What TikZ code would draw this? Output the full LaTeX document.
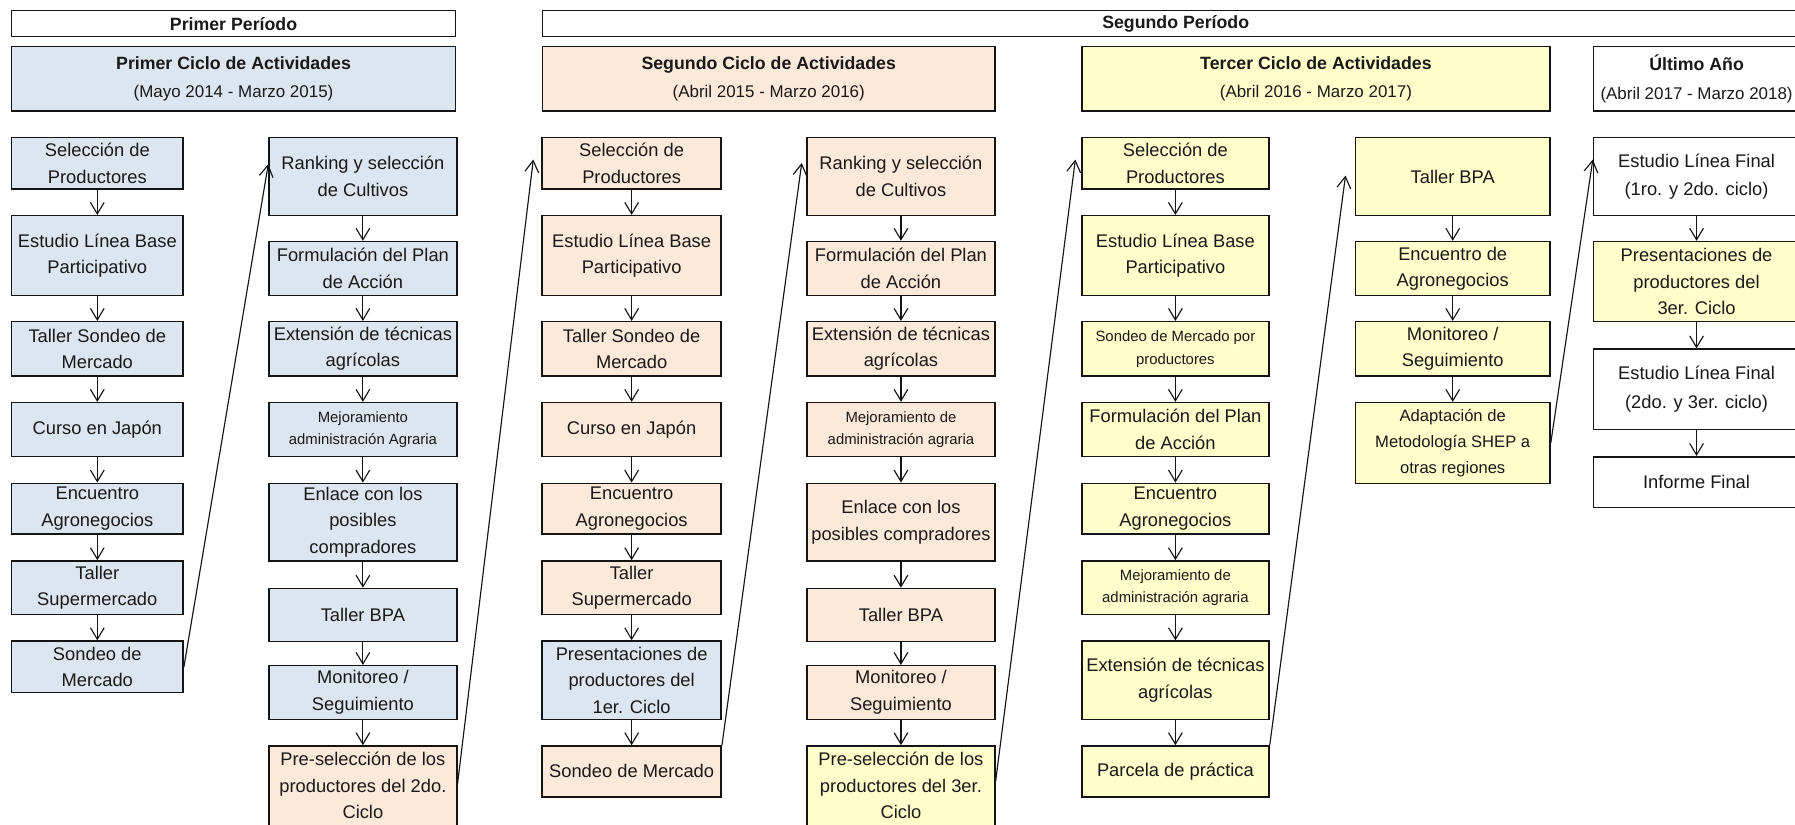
\documentclass[tikz,border=0pt]{standalone}
\usepackage{fontspec}
\setmainfont{Liberation Sans}
\usetikzlibrary{arrows.meta,calc}
\definecolor{blu}{RGB}{220,230,241}
\definecolor{pch}{RGB}{253,233,217}
\definecolor{yel}{RGB}{255,255,204}
\definecolor{ink}{RGB}{20,20,20}
\newcommand{\cellbox}[7]{%
  \pgfmathsetmacro{\cbx}{(#2+#3)/2}%
  \pgfmathsetmacro{\cby}{(#4+#5)/2}%
  \pgfmathsetmacro{\cbw}{#3-#2}%
  \pgfmathsetmacro{\cbh}{#5-#4}%
  \node[cell,#6,minimum width=\cbw pt,minimum height=\cbh pt] (#1) at (\cbx,\cby) {#7};}
\begin{document}
\begin{tikzpicture}[x=1pt,y=-1pt,
  cell/.style={draw=ink, line width=1.3pt, inner sep=0pt, align=center, text=black!90,
    font=\fontsize{16}{23.3}\selectfont},
  small/.style={font=\fontsize{13}{20}\selectfont},
  mid/.style={font=\fontsize{14.5}{22.7}\selectfont},
  wide/.style={font=\fontsize{16}{24.8}\selectfont},
  head/.style={font=\fontsize{15.5}{24.6}\selectfont\bfseries},
  arr/.style={draw=ink, line width=1pt, -{Straight Barb[length=10pt,width=12pt]}}]
\useasboundingbox (0,0) rectangle (1568,720);
\clip (0,0) rectangle (1568,720);
% headers
\cellbox{pp1}{10}{398}{9.3}{32}{fill=white,head}{Primer Período}
\cellbox{pp2}{474}{1580}{9.3}{32}{fill=white,head}{Segundo Período}
\cellbox{cy1}{10}{398}{40.8}{97}{fill=blu,head}{Primer Ciclo de Actividades\\\mdseries\fontsize{14.8}{24.6}\selectfont(Mayo 2014 - Marzo 2015)}
\cellbox{cy2}{474}{869}{40.8}{97}{fill=pch,head}{Segundo Ciclo de Actividades\\\mdseries\fontsize{14.8}{24.6}\selectfont(Abril 2015 - Marzo 2016)}
\cellbox{cy3}{945}{1354}{40.8}{97}{fill=yel,head}{Tercer Ciclo de Actividades\\\mdseries\fontsize{14.8}{24.6}\selectfont(Abril 2016 - Marzo 2017)}
\cellbox{cy4}{1392}{1572}{40.8}{97}{fill=white,head}{Último Año\\\mdseries\fontsize{14.8}{24.6}\selectfont(Abril 2017 - Marzo 2018)}
% column 1
\cellbox{c1r1}{10}{160}{120}{165}{fill=blu}{Selección de\\Productores}
\cellbox{c1r2}{10}{160}{188.4}{258.3}{fill=blu}{Estudio Línea Base\\Participativo}
\cellbox{c1r3}{10}{160}{281}{328.4}{fill=blu}{Taller Sondeo de\\Mercado}
\cellbox{c1r4}{10}{160}{351.7}{398.9}{fill=blu}{Curso en Japón}
\cellbox{c1r5}{10}{160}{422.2}{466.5}{fill=blu}{Encuentro\\Agronegocios}
\cellbox{c1r6}{10}{160}{490}{536.6}{fill=blu}{Taller\\Supermercado}
\cellbox{c1r7}{10}{160}{560}{605}{fill=blu}{Sondeo de\\Mercado}
% column 2
\cellbox{c2r1}{235}{399}{120}{188.4}{fill=blu}{Ranking y selección\\de Cultivos}
\cellbox{c2r2}{235}{399}{211}{258.3}{fill=blu}{Formulación del Plan\\de Acción}
\cellbox{c2r3}{235}{399}{281}{328.4}{fill=blu}{Extensión de técnicas\\agrícolas}
\cellbox{c2r4}{235}{399}{351.7}{398.9}{fill=blu,small}{Mejoramiento\\administración Agraria}
\cellbox{c2r5}{235}{399}{422.2}{490}{fill=blu}{Enlace con los\\posibles\\compradores}
\cellbox{c2r6}{235}{399}{514}{560.5}{fill=blu}{Taller BPA}
\cellbox{c2r7}{235}{399}{581.5}{628.4}{fill=blu}{Monitoreo /\\Seguimiento}
\cellbox{c2r8}{235}{399}{651.6}{721}{fill=pch}{Pre-selección de los\\productores del 2do.\\Ciclo}
% column 3
\cellbox{c3r1}{473.5}{630}{120}{165}{fill=pch}{Selección de\\Productores}
\cellbox{c3r2}{473.5}{630}{188.4}{258.3}{fill=pch}{Estudio Línea Base\\Participativo}
\cellbox{c3r3}{473.5}{630}{281}{328.4}{fill=pch}{Taller Sondeo de\\Mercado}
\cellbox{c3r4}{473.5}{630}{351.7}{398.9}{fill=pch}{Curso en Japón}
\cellbox{c3r5}{473.5}{630}{422.2}{466.5}{fill=pch}{Encuentro\\Agronegocios}
\cellbox{c3r6}{473.5}{630}{490}{536.6}{fill=pch}{Taller\\Supermercado}
\cellbox{c3r7}{473.5}{630}{560}{628.4}{fill=blu}{Presentaciones de\\productores del\\1er. Ciclo}
\cellbox{c3r8}{473.5}{630}{651.6}{696}{fill=pch}{Sondeo de Mercado}
% column 4
\cellbox{c4r1}{705}{869}{120}{188.4}{fill=pch}{Ranking y selección\\de Cultivos}
\cellbox{c4r2}{705}{869}{211}{258.3}{fill=pch}{Formulación del Plan\\de Acción}
\cellbox{c4r3}{705}{869}{281}{328.4}{fill=pch}{Extensión de técnicas\\agrícolas}
\cellbox{c4r4}{705}{869}{351.7}{398.9}{fill=pch,small}{Mejoramiento de\\administración agraria}
\cellbox{c4r5}{705}{869}{422.2}{490}{fill=pch}{Enlace con los\\posibles compradores}
\cellbox{c4r6}{705}{869}{514}{560.5}{fill=pch}{Taller BPA}
\cellbox{c4r7}{705}{869}{581.5}{628.4}{fill=pch}{Monitoreo /\\Seguimiento}
\cellbox{c4r8}{705}{869}{651.6}{721}{fill=yel}{Pre-selección de los\\productores del 3er.\\Ciclo}
% column 5
\cellbox{c5r1}{945}{1108.5}{120}{165}{fill=yel}{Selección de\\Productores}
\cellbox{c5r2}{945}{1108.5}{188.4}{258.3}{fill=yel}{Estudio Línea Base\\Participativo}
\cellbox{c5r3}{945}{1108.5}{281}{328.4}{fill=yel,small}{Sondeo de Mercado por\\productores}
\cellbox{c5r4}{945}{1108.5}{351.7}{398.9}{fill=yel}{Formulación del Plan\\de Acción}
\cellbox{c5r5}{945}{1108.5}{422.2}{466.5}{fill=yel}{Encuentro\\Agronegocios}
\cellbox{c5r6}{945}{1108.5}{490}{536.6}{fill=yel,small}{Mejoramiento de\\administración agraria}
\cellbox{c5r7}{945}{1108.5}{560}{628.4}{fill=yel}{Extensión de técnicas\\agrícolas}
\cellbox{c5r8}{945}{1108.5}{651.6}{696}{fill=yel}{Parcela de práctica}
% column 6
\cellbox{c6r1}{1184}{1354}{120}{188.4}{fill=yel}{Taller BPA}
\cellbox{c6r2}{1184}{1354}{211}{258.3}{fill=yel}{Encuentro de\\Agronegocios}
\cellbox{c6r3}{1184}{1354}{281}{328.4}{fill=yel}{Monitoreo /\\Seguimiento}
\cellbox{c6r4}{1184}{1354}{351.7}{422.2}{fill=yel,mid}{Adaptación de\\Metodología SHEP a\\otras regiones}
% column 7
\cellbox{c7r1}{1392}{1572}{120}{188.4}{fill=white,wide}{Estudio Línea Final\\(1ro. y 2do. ciclo)}
\cellbox{c7r2}{1392}{1572}{211}{281}{fill=yel}{Presentaciones de\\productores del\\3er. Ciclo}
\cellbox{c7r3}{1392}{1572}{305}{375}{fill=white,wide}{Estudio Línea Final\\(2do. y 3er. ciclo)}
\cellbox{c7r4}{1392}{1572}{399}{443.5}{fill=white}{Informe Final}
% vertical arrows
\foreach \c/\n in {1/6,2/7,3/7,4/7,5/7,6/3,7/3}{
  \foreach \r in {1,...,\n}{
    \pgfmathtruncatemacro{\s}{\r+1}
    \draw[arr] (c\c r\r.south) -- (c\c r\s.north);
  }}
% connectors between columns
\draw[arr] (c1r7.east) -- ($(c2r1.north west)+(0,24)$);
\draw[arr] ($(c2r8.north east)+(0,34)$) -- ($(c3r1.north west)+(-7,20)$);
\draw[arr] (c3r8.north east) -- ($(c4r1.north west)+(-4,23)$);
\draw[arr] ($(c4r8.north east)+(0,32)$) -- ($(c5r1.north west)+(-5,20)$);
\draw[arr] (c5r8.north east) -- ($(c6r1.north west)+(-8,34)$);
\draw[arr] (c6r4.east) -- ($(c7r1.north west)+(0,20)$);
\end{tikzpicture}
\end{document}
